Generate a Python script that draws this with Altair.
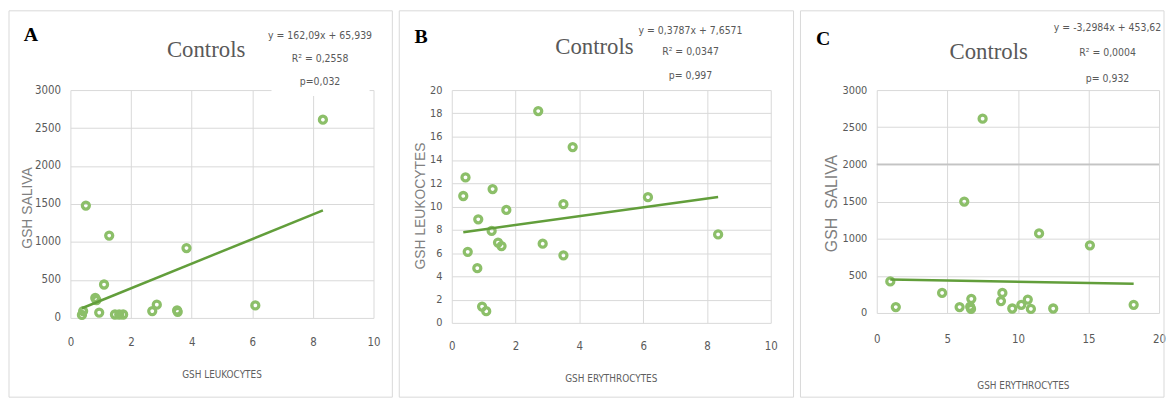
import altair as alt
import pandas as pd

GREEN_PT = "#8cbf69"
GREEN_LN = "#629e3b"
GRID = "#d9d9d9"
LABEL = "#595959"
NARROW = "DejaVu Sans Condensed, Liberation Sans Narrow, sans-serif"
SANS = "Liberation Sans, Arial, sans-serif"
SERIF = "Liberation Serif, Times New Roman, serif"

# ---------- Panel A : GSH leukocytes vs GSH saliva ----------
a_x = [8.33, 0.51, 1.28, 3.83, 1.11, 0.82, 0.86, 0.38, 0.42, 0.95, 1.47, 1.61, 1.74, 2.70, 2.85, 3.52, 3.54, 6.10]
a_y = [2610, 1480, 1085, 920, 440, 263, 235, 40, 90, 70, 45, 45, 45, 90, 175, 100, 80, 165]
a_xticks = [0, 2, 4, 6, 8, 10]
a_yticks = [0, 500, 1000, 1500, 2000, 2500, 3000]
a_coef = [162.09, 65.939]
a_trend_x = [0.38, 8.33]
a_eq = ["y = 162,09x + 65,939", "R² = 0,2558", "p=0,032"]

# ---------- Panel B : GSH erythrocytes vs GSH leukocytes ----------
b_x = [2.71, 3.79, 0.43, 0.36, 1.28, 1.71, 3.50, 6.15, 0.83, 1.25, 1.45, 1.56, 2.85, 8.35, 0.50, 3.50, 0.80, 0.95, 1.08]
b_y = [18.2, 15.1, 12.5, 10.9, 11.5, 9.7, 10.2, 10.8, 8.9, 7.9, 6.9, 6.6, 6.8, 7.6, 6.1, 5.8, 4.7, 1.4, 1.0]
b_xticks = [0, 2, 4, 6, 8, 10]
b_yticks = [0, 2, 4, 6, 8, 10, 12, 14, 16, 18, 20]
b_coef = [0.3787, 7.6571]
b_trend_x = [0.36, 8.35]
b_eq = ["y = 0,3787x + 7,6571", "R² = 0,0347", "p= 0,997"]

# ---------- Panel C : GSH erythrocytes vs GSH saliva ----------
c_x = [7.5, 6.2, 11.5, 15.1, 0.96, 4.63, 1.35, 5.87, 6.7, 6.68, 6.62, 8.9, 8.8, 9.6, 10.24, 10.7, 10.92, 12.5, 18.2]
c_y = [2615, 1500, 1070, 910, 425, 270, 80, 80, 190, 55, 85, 270, 160, 60, 110, 180, 55, 60, 110]
c_xticks = [0, 5, 10, 15, 20]
c_yticks = [0, 500, 1000, 1500, 2000, 2500, 3000]
c_coef = [-3.2984, 453.62]
c_trend_x = [0.96, 18.2]
c_eq = ["y = -3,2984x + 453,62", "R² = 0,0004", "p= 0,932"]
c_dark_grid = [2000]


def txt(s, x, y, size, font, color, angle=0, weight="normal", baseline="alphabetic"):
    kw = dict(align="center", baseline=baseline, font=font, fontSize=size,
              color=color, fontWeight=weight)
    if angle:
        kw["angle"] = angle
    return alt.Chart(pd.DataFrame({"t": [s]})).mark_text(**kw).encode(
        text="t:N", x=alt.value(x), y=alt.value(y))


def panel(xs, ys, xdom, xticks, ydom, yticks, W, H, trend_x, coef,
          ylabsize, xpad, rect, texts, extra=None):
    df = pd.DataFrame({"x": xs, "y": ys})
    X = alt.X("x:Q", scale=alt.Scale(domain=xdom, nice=False, zero=False),
              axis=alt.Axis(values=xticks, title=None, grid=True, gridColor=GRID,
                            gridWidth=1, ticks=False, domain=False, labelFont=NARROW,
                            labelFontSize=11.5, labelColor=LABEL, labelPadding=xpad,
                            labelFlush=False, labelOverlap=False, format="d"))
    Y = alt.Y("y:Q", scale=alt.Scale(domain=ydom, nice=False, zero=False),
              axis=alt.Axis(values=yticks, title=None, grid=True, gridColor=GRID,
                            gridWidth=1, ticks=False, domain=False, labelFont=NARROW,
                            labelFontSize=ylabsize, labelColor=LABEL, labelPadding=10,
                            labelFlush=False, labelOverlap=False, format="d"))
    border = alt.Chart(pd.DataFrame({"a": [0]})).mark_rect(
        filled=False, stroke=GRID, strokeWidth=1).encode(
        x=alt.value(rect[0]), x2=alt.value(rect[1]),
        y=alt.value(rect[2]), y2=alt.value(rect[3]))
    pts = alt.Chart(df).mark_point(shape="circle", filled=False, size=50,
                                   strokeWidth=3.3, color=GREEN_PT, opacity=1).encode(x=X, y=Y)
    tdf = pd.DataFrame({"x": trend_x, "y": [coef[0] * v + coef[1] for v in trend_x]})
    line = alt.Chart(tdf).mark_line(color=GREEN_LN, strokeWidth=2.5).encode(x=X, y=Y)
    layers = [border]
    if extra:
        layers += [e(Y) for e in extra]
    layers += [pts, line] + texts
    return alt.layer(*layers).properties(width=W, height=H)


# Panel A  (plot area top at page y=88 for all three panels)
A_W, A_H = 306, 230
a_texts = [
    alt.Chart(pd.DataFrame({"a": [0]})).mark_rect(color="white").encode(
        x=alt.value(203), x2=alt.value(302), y=alt.value(-67), y2=alt.value(6)),
    txt("A", -40, -50, 20, SERIF, "black", weight="bold"),
    txt("Controls", 137, -33, 23, SERIF, LABEL),
    txt(a_eq[0], 252, -52, 10.5, NARROW, LABEL),
    txt(a_eq[1], 252, -28, 10.5, NARROW, LABEL),
    txt(a_eq[2], 252, -5, 10.5, NARROW, LABEL),
    txt("GSH SALIVA", -43, 119, 14, SANS, "#808080", angle=270, baseline="middle"),
    txt("GSH LEUKOCYTES", 153, 291, 10, NARROW, "#5f5f5f"),
]
pA = panel(a_x, a_y, [0, 10], a_xticks, [0, 3000], a_yticks, A_W, A_H,
           a_trend_x, a_coef, 11.5, 19, [-62, 325, -80, 310], a_texts)

# Panel B
B_W, B_H = 322, 235
b_texts = [
    txt("B", -31, -48, 20, SERIF, "black", weight="bold"),
    txt("Controls", 144, -36, 23, SERIF, LABEL),
    txt(b_eq[0], 241, -57, 10.5, NARROW, LABEL),
    txt(b_eq[1], 241, -35, 10.5, NARROW, LABEL),
    txt(b_eq[2], 241, -11, 10.5, NARROW, LABEL),
    txt("GSH LEUKOCYTES", -31.5, 117, 14, SANS, "#808080", angle=270, baseline="middle"),
    txt("GSH ERYTHROCYTES", 161, 295, 10, NARROW, "#5f5f5f"),
]
pB = panel(b_x, b_y, [0, 10], b_xticks, [0, 20], b_yticks, B_W, B_H,
           b_trend_x, b_coef, 11, 18, [-53, 345, -80, 310], b_texts)

# Panel C
C_W, C_H = 285, 225


def dark_rule(Y):
    return alt.Chart(pd.DataFrame({"y": c_dark_grid})).mark_rule(
        color="#c4c4c4", strokeWidth=2).encode(y=Y)


c_texts = [
    txt("C", -54, -46, 20, SERIF, "black", weight="bold"),
    txt("Controls", 113, -31, 23, SERIF, LABEL),
    txt(c_eq[0], 233, -60, 10.5, NARROW, LABEL),
    txt(c_eq[1], 233, -34, 10.5, NARROW, LABEL),
    txt(c_eq[2], 233, -8, 10.5, NARROW, LABEL),
    txt("GSH\u00a0\u00a0SALIVA", -45, 114.5, 16, SANS, "#808080", angle=270, baseline="middle"),
    txt("GSH ERYTHROCYTES", 148, 302, 10, NARROW, "#5f5f5f"),
]
pC = panel(c_x, c_y, [0, 20], c_xticks, [0, 3000], c_yticks, C_W, C_H,
           c_trend_x, c_coef, 11, 21, [-77, 290, -80, 310], c_texts, extra=[dark_rule])

chart = alt.hconcat(pA, pB, pC, spacing=5, padding=0).configure_view(strokeWidth=0)

chart.save("out.html", embed_options={"renderer": "svg", "actions": False})
